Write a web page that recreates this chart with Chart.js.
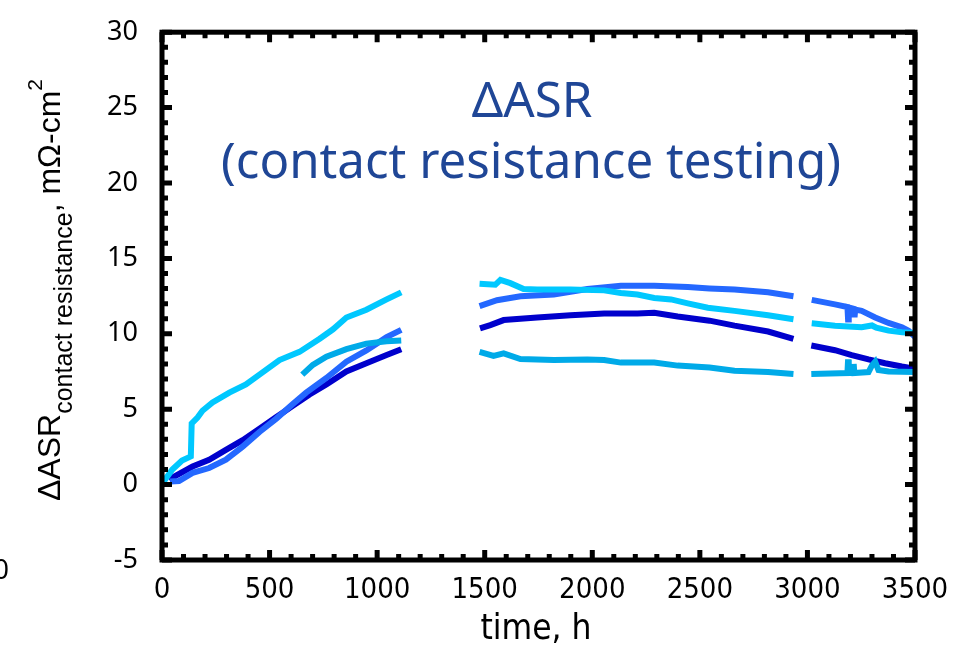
<!DOCTYPE html>
<html>
<head>
    <title>Delta ASR contact resistance</title>
    <script src="https://cdn.jsdelivr.net/npm/chart.js@4.4.1/dist/chart.umd.min.js"></script>
    <style>
        body {
            margin: 0;
            background-color: white;
        }
        .chart-container {
            position: relative;
            width: 964px;
            height: 656px;
        }
    </style>
</head>
<body>
    <div class="chart-container">
        <canvas id="asrChart"></canvas>
    </div>

    <script>
    // x ticks and y ticks
    const xTicks = [0, 500, 1000, 1500, 2000, 2500, 3000, 3500];
    const yTicks = [-5, 0, 5, 10, 15, 20, 25, 30];

    // light cyan cell
    const cellA_time = [8, 48, 93, 134, 138, 165, 188, 235, 313, 390, 453, 546, 639, 733, 795, 857, 950, 1044, 1112,
        null, 1476, 1549, 1573, 1619, 1681, 1744, 1899, 2055, 2133, 2210, 2288, 2366, 2444, 2537, 2661, 2817, 2935,
        null, 3020, 3128, 3252, 3300, 3320, 3377, 3440, 3500];
    const cellA_val = [0.2, 1.0, 1.6, 1.87, 4.05, 4.45, 4.9, 5.45, 6.1, 6.64, 7.29, 8.26, 8.8, 9.67, 10.3, 11.08, 11.6, 12.28, 12.75,
        null, 13.32, 13.25, 13.58, 13.36, 12.97, 12.93, 12.93, 12.88, 12.7, 12.6, 12.38, 12.28, 12.02, 11.73, 11.52, 11.23, 10.97,
        null, 10.7, 10.54, 10.43, 10.55, 10.4, 10.21, 10.1, 10.05];

    // medium blue cell
    const cellB_time = [38, 79, 142, 219, 297, 375, 453, 530, 608, 670, 764, 857, 950, 1044, 1112,
        null, 1476, 1557, 1666, 1821, 1977, 2133, 2288, 2444, 2545, 2661, 2817, 2935,
        null, 3020, 3128, 3186, 3189, 3192, 3216, 3219, 3222, 3252, 3315, 3377, 3439, 3470, 3500];
    const cellB_val = [0.2, 0.24, 0.78, 1.1, 1.65, 2.52, 3.49, 4.36, 5.34, 6.1, 7.07, 8.15, 8.9, 9.78, 10.26,
        null, 11.84, 12.23, 12.49, 12.6, 12.97, 13.19, 13.19, 13.1, 13.01, 12.93, 12.75, 12.49,
        null, 12.25, 11.95, 11.78, 10.95, 11.75, 11.65, 11.1, 11.6, 11.52, 11.08, 10.72, 10.43, 10.2, 9.8];

    // dark blue cell
    const cellC_time = [33, 48, 142, 219, 297, 375, 453, 530, 608, 686, 764, 857, 950, 1044, 1112,
        null, 1478, 1526, 1588, 1744, 1899, 2055, 2210, 2288, 2397, 2545, 2661, 2817, 2935,
        null, 3018, 3128, 3206, 3284, 3361, 3439, 3500];
    const cellC_val = [0.35, 0.46, 1.2, 1.65, 2.3, 2.95, 3.7, 4.47, 5.22, 5.98, 6.64, 7.5, 8.05, 8.59, 8.98,
        null, 10.36, 10.58, 10.91, 11.08, 11.23, 11.34, 11.34, 11.4, 11.15, 10.87, 10.54, 10.15, 9.67,
        null, 9.22, 8.91, 8.59, 8.3, 8.05, 7.83, 7.68];

    // cyan cell
    const cellD_time = [652, 701, 764, 857, 950, 1044, 1112,
        null, 1476, 1541, 1588, 1666, 1821, 1977, 2055, 2133, 2288, 2397, 2545, 2661, 2817, 2935,
        null, 3018, 3150, 3186, 3189, 3192, 3212, 3215, 3218, 3284, 3300, 3315, 3330, 3377, 3500];
    const cellD_val = [7.29, 7.94, 8.48, 8.98, 9.35, 9.5, 9.55,
        null, 8.8, 8.54, 8.7, 8.33, 8.26, 8.3, 8.26, 8.09, 8.09, 7.89, 7.76, 7.55, 7.46, 7.33,
        null, 7.33, 7.38, 7.4, 8.3, 7.4, 7.4, 8.0, 7.4, 7.46, 7.9, 8.15, 7.6, 7.5, 7.46];

    function toPoints(times, vals) {
        return times.map((t, i) => ({ x: t === null ? (times[i - 1] + 1) : t, y: vals[i] }));
    }

    const titleColor = '#1f4696';

    // frame, inward ticks, titles
    const decorations = {
        id: 'decorations',
        afterDraw(chart) {
            const ctx = chart.ctx;
            const area = chart.chartArea;
            const xs = chart.scales.x;
            const ys = chart.scales.y;
            ctx.save();
            ctx.strokeStyle = 'black';
            ctx.lineWidth = 5;
            ctx.strokeRect(area.left, area.top, area.right - area.left, area.bottom - area.top);

            ctx.beginPath();
            for (let v = 0; v <= 3500; v += 100) {
                const px = xs.getPixelForValue(v);
                const len = v % 500 === 0 ? 10 : 6;
                ctx.moveTo(px, area.bottom);
                ctx.lineTo(px, area.bottom - len);
                ctx.moveTo(px, area.top);
                ctx.lineTo(px, area.top + len);
            }
            for (let v = -5; v <= 30; v += 1) {
                const py = ys.getPixelForValue(v);
                const len = v % 5 === 0 ? 10 : 6;
                ctx.moveTo(area.left, py);
                ctx.lineTo(area.left + len, py);
                ctx.moveTo(area.right, py);
                ctx.lineTo(area.right - len, py);
            }
            ctx.stroke();

            // title inside plot
            ctx.fillStyle = titleColor;
            ctx.textAlign = 'center';
            ctx.textBaseline = 'alphabetic';
            ctx.font = '40px "Noto Sans"';
            const line2 = '(contact resistance testing)';
            const fs = 40 * 620 / ctx.measureText(line2).width;
            ctx.font = fs + 'px "Noto Sans"';
            ctx.fillText('\u0394ASR', 532, 117);
            ctx.fillText(line2, 531, 178);

            // x axis title
            ctx.fillStyle = 'black';
            ctx.font = '35px "Liberation Sans Narrow", "DejaVu Sans Condensed", sans-serif';
            ctx.textBaseline = 'middle';
            ctx.fillText('time, h', 536, 630);

            // stray label at left edge
            ctx.textAlign = 'right';
            ctx.font = '27px "Noto Sans"';
            ctx.fillText('0', 9, 571);

            // y axis title with sub and superscript
            const parts = [
                { t: '\u0394ASR', f: '32px "Liberation Sans"', dy: 0 },
                { t: 'contact resistance', f: '25px "Liberation Sans"', dy: 12 },
                { t: ', m\u03a9-cm', f: '32px "Liberation Sans"', dy: 0 },
                { t: '2', f: '21px "Liberation Sans"', dy: -18 }
            ];
            ctx.translate(60, 501);
            ctx.rotate(-Math.PI / 2);
            ctx.textAlign = 'left';
            ctx.textBaseline = 'alphabetic';
            let pos = 0;
            parts.forEach(p => {
                ctx.font = p.f;
                ctx.fillText(p.t, pos, p.dy);
                pos += ctx.measureText(p.t).width;
            });
            ctx.restore();
        }
    };

    const lineStyle = {
        borderWidth: 6,
        pointRadius: 0,
        tension: 0,
        spanGaps: false,
        fill: false
    };

    const config = {
        type: 'line',
        data: {
            datasets: [
                Object.assign({ label: 'cell D', data: toPoints(cellD_time, cellD_val), borderColor: '#00aae8', order: 0 }, lineStyle),
                Object.assign({ label: 'cell A', data: toPoints(cellA_time, cellA_val), borderColor: '#00c8ff', order: 1 }, lineStyle),
                Object.assign({ label: 'cell B', data: toPoints(cellB_time, cellB_val), borderColor: '#2468ff', order: 2 }, lineStyle),
                Object.assign({ label: 'cell C', data: toPoints(cellC_time, cellC_val), borderColor: '#0000cc', order: 3 }, lineStyle)
            ]
        },
        options: {
            responsive: true,
            maintainAspectRatio: false,
            animation: false,
            layout: {
                padding: { top: 22, right: 49, left: 0, bottom: 0 }
            },
            plugins: {
                legend: { display: false },
                tooltip: { enabled: false }
            },
            scales: {
                x: {
                    type: 'linear',
                    min: 0,
                    max: 3500,
                    afterFit(scale) { scale.height = 96; },
                    afterBuildTicks(scale) { scale.ticks = xTicks.map(v => ({ value: v })); },
                    grid: { display: false },
                    border: { display: false },
                    ticks: {
                        color: 'black',
                        padding: 5,
                        maxRotation: 0,
                        callback: v => String(v),
                        font: { family: '"DejaVu Sans Condensed", "Liberation Sans Narrow", sans-serif', size: 29 }
                    }
                },
                y: {
                    min: -5,
                    max: 30,
                    afterFit(scale) { scale.width = 162; },
                    afterBuildTicks(scale) { scale.ticks = yTicks.map(v => ({ value: v })); },
                    grid: { display: false },
                    border: { display: false },
                    ticks: {
                        color: 'black',
                        padding: 16,
                        callback: v => String(v),
                        font: { family: '"Noto Sans"', size: 27 }
                    }
                }
            }
        },
        plugins: [decorations]
    };

    const ctx = document.getElementById('asrChart').getContext('2d');
    const chart = new Chart(ctx, config);
    </script>
</body>
</html>
